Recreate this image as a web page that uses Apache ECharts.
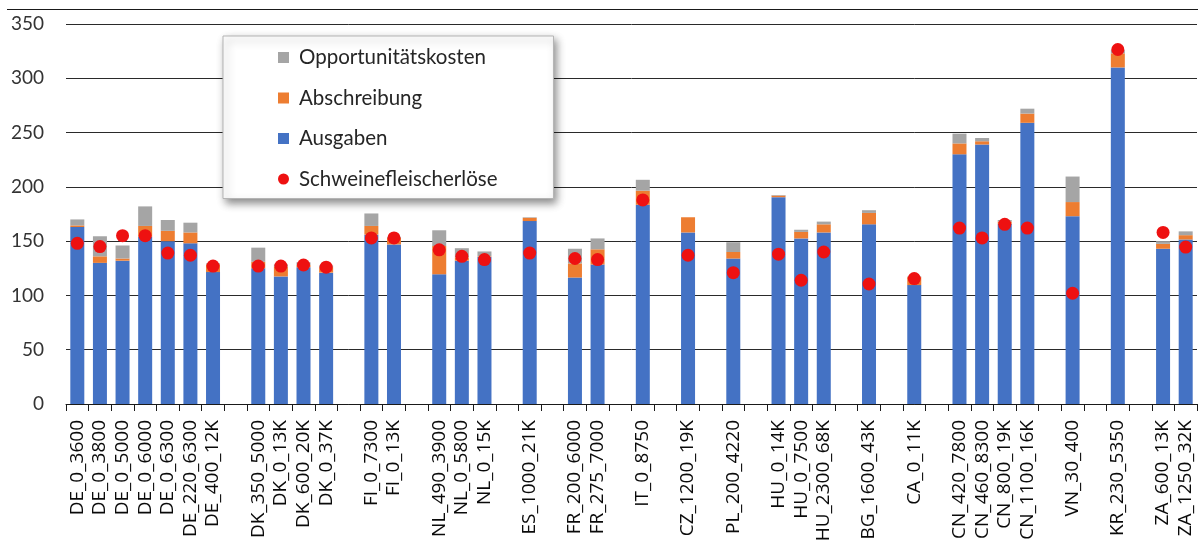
<!DOCTYPE html>
<html>
<head>
<meta charset="utf-8">
<script src="https://cdn.jsdelivr.net/npm/echarts@6/dist/echarts.min.js"></script>
<style>
  html, body { margin: 0; padding: 0; background: #ffffff; }
  #chart { width: 1198px; height: 545px; }
</style>
</head>
<body>
<div id="chart"></div>
<script>
// Farm types per country; null marks the empty slot between country groups
const categories = [
  'DE_0_3600', 'DE_0_3800', 'DE_0_5000', 'DE_0_6000', 'DE_0_6300', 'DE_220_6300', 'DE_400_12K', null,
  'DK_350_5000', 'DK_0_13K', 'DK_600_20K', 'DK_0_37K', null,
  'FI_0_7300', 'FI_0_13K', null,
  'NL_490_3900', 'NL_0_5800', 'NL_0_15K', null,
  'ES_1000_21K', null,
  'FR_200_6000', 'FR_275_7000', null,
  'IT_0_8750', null,
  'CZ_1200_19K', null,
  'PL_200_4220', null,
  'HU_0_14K', 'HU_0_7500', 'HU_2300_68K', null,
  'BG_1600_43K', null,
  'CA_0_11K', null,
  'CN_420_7800', 'CN_460_8300', 'CN_800_19K', 'CN_1100_16K', null,
  'VN_30_400', null,
  'KR_230_5350', null,
  'ZA_600_13K', 'ZA_1250_32K'
];

const ausgaben = [
  163, 130, 132, 154, 150, 148, 121.5, null,
  125, 117.5, 126, 121, null,
  156, 147, null,
  119.5, 132, 135.5, null,
  168.5, null,
  116.5, 128.5, null,
  183.5, null,
  158, null,
  134, null,
  190.5, 152.5, 158, null,
  165.5, null,
  109.5, null,
  230, 239, 166, 259, null,
  173, null,
  310, null,
  143, 151.5
];

const abschreibung = [
  1.5, 6, 2, 10, 9.5, 10, 7, null,
  6, 9, 2, 5, null,
  8, 6, null,
  26, 3, 0.5, null,
  3, null,
  13, 14, null,
  13, null,
  14, null,
  6, null,
  1.5, 6, 7.5, null,
  10.5, null,
  7.5, null,
  10, 3, 2, 8.5, null,
  13, null,
  13, null,
  4.5, 4
];

const opportunitaetskosten = [
  5.5, 18.5, 12, 18, 10, 9, 1, null,
  13, 2, 2.5, 1.5, null,
  11.5, 1, null,
  14.5, 8.5, 4.5, null,
  0.5, null,
  13.5, 10, null,
  10, null,
  0, null,
  9, null,
  0.5, 2, 2.5, null,
  2.5, null,
  0.5, null,
  9, 3, 1.5, 4.5, null,
  23.5, null,
  3, null,
  2.5, 3.5
];

const schweinefleischerloese = [
  148, 145, 155, 155, 139, 137, 127, null,
  127, 127, 128, 126, null,
  153, 153, null,
  142, 136, 133, null,
  139, null,
  134, 133, null,
  188, null,
  137, null,
  121, null,
  138, 114, 140, null,
  110.5, null,
  115.5, null,
  162, 153, 165.5, 162, null,
  102, null,
  326.5, null,
  158, 144.5
];

const yTicks = { min: 0, max: 350, interval: 50 };

// empty slots get unique hidden keys so the category axis keeps them apart
const axisKeys = categories.map((c, i) => c === null ? '#' + i : c);

const chart = echarts.init(document.getElementById('chart'), null, { renderer: 'canvas' });

const barBase = {
  type: 'bar',
  stack: 'kosten',
  barWidth: 14,
  emphasis: { disabled: true }
};

chart.setOption({
  animation: false,
  backgroundColor: '#ffffff',
  grid: { left: 66, right: 1, top: 24, bottom: 141, containLabel: false },
  graphic: [{
    type: 'line',
    shape: { x1: 7, y1: 9.5, x2: 1198, y2: 9.5 },
    style: { stroke: '#1a1a1a', lineWidth: 1.2 },
    silent: true
  }],
  legend: {
    data: [
      { name: 'Opportunitätskosten', icon: 'rect' },
      { name: 'Abschreibung', icon: 'rect' },
      { name: 'Ausgaben', icon: 'rect' },
      { name: 'Schweinefleischerlöse', icon: 'circle' }
    ],
    orient: 'vertical',
    left: 223,
    top: 36,
    itemWidth: 11,
    itemHeight: 11,
    itemGap: 19.5,
    padding: [11, 56, 9, 55],
    backgroundColor: '#ffffff',
    borderColor: '#b4b4b4',
    borderWidth: 1,
    shadowColor: 'rgba(0,0,0,0.45)',
    shadowBlur: 8,
    shadowOffsetX: 3,
    shadowOffsetY: 4,
    textStyle: {
      fontFamily: 'Lato', fontSize: 20.5, color: '#262626',
      lineHeight: 21, padding: [0, 0, 0, 5]
    }
  },
  xAxis: {
    type: 'category',
    data: axisKeys,
    boundaryGap: true,
    axisLine: { lineStyle: { color: '#1a1a1a', width: 1 } },
    axisTick: { show: true, length: 7, lineStyle: { color: '#1a1a1a' } },
    axisLabel: {
      interval: 0,
      rotate: 90,
      margin: 16,
      fontFamily: 'Open Sans',
      fontSize: 19,
      color: '#0a0a0a',
      formatter: v => v.charAt(0) === '#' ? '' : v
    },
    splitLine: { show: false }
  },
  yAxis: {
    type: 'value',
    min: yTicks.min,
    max: yTicks.max,
    interval: yTicks.interval,
    axisLine: { show: false },
    axisTick: { show: false },
    axisLabel: { fontFamily: 'Lato', fontSize: 19, color: '#333333', margin: 22 },
    splitLine: { lineStyle: { color: '#2a2a2a', width: 1 } }
  },
  series: [
    Object.assign({}, barBase, { name: 'Ausgaben', data: ausgaben, itemStyle: { color: '#4472C4' } }),
    Object.assign({}, barBase, { name: 'Abschreibung', data: abschreibung, itemStyle: { color: '#ED7D31' } }),
    Object.assign({}, barBase, { name: 'Opportunitätskosten', data: opportunitaetskosten, itemStyle: { color: '#A5A5A5' } }),
    {
      name: 'Schweinefleischerlöse',
      type: 'scatter',
      data: schweinefleischerloese,
      symbol: 'circle',
      symbolSize: 13,
      z: 5,
      itemStyle: { color: '#EE1111', opacity: 1 },
      emphasis: { disabled: true }
    }
  ]
});
</script>
</body>
</html>
